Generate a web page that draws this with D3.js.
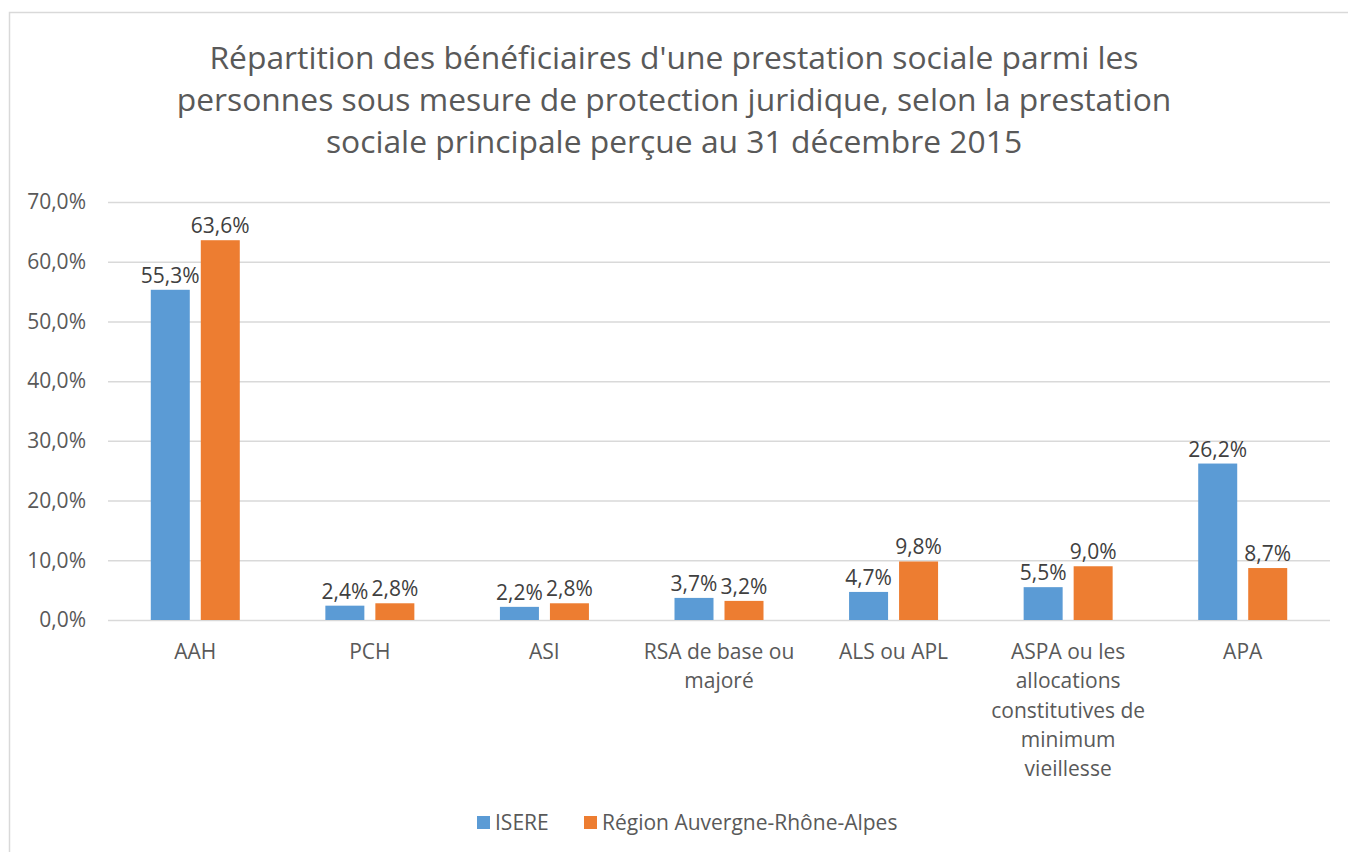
<html>
<head>
	<meta charset="utf-8">
	<title>Prestations sociales</title>
	<style>
		body { margin: 0; background: #fff; }
		text { font-family: "Open Sans", "Noto Sans", sans-serif; fill: #595959; }
	</style>
</head>
<body>
	<script src="https://cdnjs.cloudflare.com/ajax/libs/d3/7.8.5/d3.min.js"></script>
	<script type="text/javascript">
		var categories = ["AAH", "PCH", "ASI", "RSA de base ou\nmajoré", "ALS ou APL",
			"ASPA ou les\nallocations\nconstitutives de\nminimum\nvieillesse", "APA"];
		var isere = [55.3, 2.4, 2.2, 3.7, 4.7, 5.5, 26.2];
		var region = [63.6, 2.8, 2.8, 3.2, 9.8, 9.0, 8.7];
		var seriesNames = ["ISERE", "Région Auvergne-Rhône-Alpes"];
		var seriesColors = ["#5B9BD5", "#ED7D31"];
		var yTicks = [0, 10, 20, 30, 40, 50, 60, 70];
		var titleLines = ["Répartition des bénéficiaires d'une prestation sociale parmi les",
			"personnes sous mesure de protection juridique, selon la prestation",
			"sociale principale perçue au 31 décembre 2015"];

		var W = 1348, H = 852;
		var svg = d3.select("body").append("svg")
			.attr("width", W)
			.attr("height", H);

		// chart frame (runs off right and bottom edges)
		svg.append("path")
			.attr("d", "M9.5," + H + " L9.5,12.5 L" + W + ",12.5")
			.style("fill", "none")
			.style("stroke", "#d9d9d9")
			.style("stroke-width", "1.5px");

		var fmt = function(v){ return d3.format(".1f")(v).replace(".", ","); };

		var pl = 108, pr = 1330, pt = 202, pb = 620;
		var x = d3.scaleBand().domain(d3.range(categories.length)).range([pl, pr]);
		var y = d3.scaleLinear().domain([0, 70]).range([pb, pt]);

		svg.selectAll("text.title")
			.data(titleLines)
			.enter().append("text")
			.attr("class", "title")
			.attr("x", 674)
			.attr("y", function(d, i){ return 60 + i*42; })
			.attr("text-anchor", "middle")
			.attr("dominant-baseline", "middle")
			.style("font-size", "31.8px")
			.text(function(d){ return d; });

		// gridlines
		svg.selectAll("line.grid")
			.data(yTicks)
			.enter().append("line")
			.attr("x1", pl).attr("x2", pr)
			.attr("y1", function(d){ return y(d) + 0.5; })
			.attr("y2", function(d){ return y(d) + 0.5; })
			.style("stroke", "#d9d9d9")
			.style("stroke-width", "1.5px");

		var yAxis = svg.append("g")
			.attr("transform", "translate(" + (pl - 22) + ",0)")
			.call(d3.axisLeft(y).tickValues(yTicks).tickSize(0).tickPadding(0)
				.tickFormat(function(d){ return fmt(d) + "%"; }));
		yAxis.select(".domain").remove();
		yAxis.selectAll("text").style("font-size", "21px").style("font-family", null).attr("fill", "#595959");

		var barW = 39, gap = 11;
		var series = [isere, region];
		series.forEach(function(vals, s){
			var off = s === 0 ? -(gap/2 + barW) : gap/2;
			var cx = function(i){ return x(i) + x.bandwidth()/2 + off; };
			svg.selectAll("rect.s" + s)
				.data(vals)
				.enter().append("rect")
				.attr("x", function(d, i){ return cx(i); })
				.attr("y", function(d){ return y(d); })
				.attr("width", barW)
				.attr("height", function(d){ return pb - y(d); })
				.style("fill", seriesColors[s]);
			svg.selectAll("text.l" + s)
				.data(vals)
				.enter().append("text")
				.attr("x", function(d, i){ return cx(i) + barW/2; })
				.attr("y", function(d){ return y(d) - 7; })
				.attr("text-anchor", "middle")
				.style("font-size", "21px")
				.style("fill", "#404040")
				.text(function(d){ return fmt(d) + "%"; });
		});

		// category labels
		var catG = svg.selectAll("text.cat")
			.data(categories)
			.enter().append("text")
			.attr("text-anchor", "middle")
			.style("font-size", "21px");
		catG.each(function(d, i){
			var t = d3.select(this);
			d.split("\n").forEach(function(line, k){
				t.append("tspan")
					.attr("x", x(i) + x.bandwidth()/2)
					.attr("y", 659 + k*29.3)
					.text(line);
			});
		});

		// legend
		var legend = svg.append("g");
		var lx = [477, 584];
		seriesNames.forEach(function(n, s){
			legend.append("rect")
				.attr("x", lx[s]).attr("y", 816)
				.attr("width", 13).attr("height", 13)
				.style("fill", seriesColors[s]);
			legend.append("text")
				.attr("x", lx[s] + 18).attr("y", 830)
				.style("font-size", "21px")
				.text(n);
		});
	</script>
</body>
</html>
